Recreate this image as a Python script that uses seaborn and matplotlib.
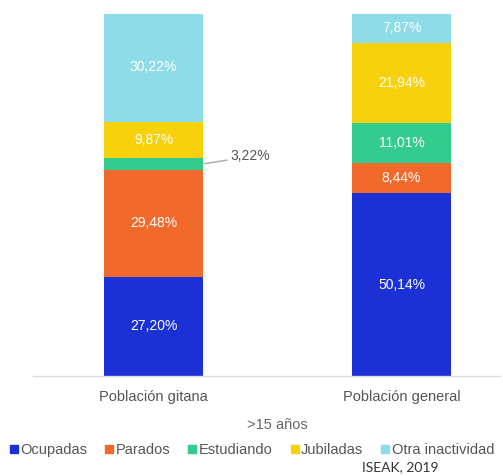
import matplotlib
matplotlib.use("Agg")
import matplotlib.pyplot as plt
from matplotlib.lines import Line2D
import seaborn as sns
import numpy as np

categories = ["Población gitana", "Población general"]
series_names = ["Ocupadas", "Parados", "Estudiando", "Jubiladas", "Otra inactividad"]
ocupadas = [27.20, 50.14]
parados = [29.48, 8.44]
estudiando = [3.22, 11.01]
jubiladas = [9.87, 21.94]
otra = [30.22, 7.87]
colors = ["#1b31d6", "#f26a2b", "#33cc8c", "#f7d20c", "#8edbe9"]

sns.set_theme(style="white")
plt.rcParams["font.family"] = ["Liberation Sans", "DejaVu Sans"]

fig = plt.figure(figsize=(5.03, 4.76), dpi=100)
W, H = 503, 476
ax = fig.add_axes([33 / W, (H - 376) / H, (500 - 33) / W, (376 - 14) / H])

series = [ocupadas, parados, estudiando, jubiladas, otra]
bottom = np.zeros(len(categories))
for name, vals, col in zip(series_names, series, colors):
    sns.barplot(x=categories, y=vals, bottom=bottom, color=col, width=0.4,
                ax=ax, saturation=1, linewidth=0)
    for i, v in enumerate(vals):
        lab = f"{v:.2f}".replace(".", ",") + "%"
        mid = bottom[i] + v / 2
        if v < 5:
            ax.annotate(lab, xy=(0.205, mid), xytext=(0.31, mid + 2.0),
                        textcoords="data", fontsize=10, color="#555555",
                        va="center", ha="left",
                        arrowprops=dict(arrowstyle="-", color="#aaaaaa", lw=1,
                                        shrinkA=0, shrinkB=0))
        else:
            ax.text(i, mid, lab, ha="center", va="center", color="white",
                    fontsize=10)
    bottom = bottom + np.array(vals)

ax.set_xlim(-0.486, 1.397)
ax.set_ylim(0, 99.4)
ax.set_yticks([])
ax.set_xlabel("")
ax.set_ylabel("")
for s in ["top", "right", "left"]:
    ax.spines[s].set_visible(False)
ax.spines["bottom"].set_color("#dddddd")
ax.spines["bottom"].set_linewidth(1)
ax.tick_params(axis="x", length=0, pad=10, labelsize=10.5, labelcolor="#555555")

fig.text(277 / W, 1 - 425 / H, ">15 años", ha="center", va="center",
         fontsize=10.5, color="#666666")

handles = [Line2D([0], [0], marker="s", linestyle="", color=c, markersize=5.5)
           for c in colors]
fig.legend(handles, series_names, loc="center", bbox_to_anchor=(252 / W, 1 - 450 / H),
           ncol=5, frameon=False, fontsize=10.5, handlelength=0.6, handletextpad=0.15,
           columnspacing=1.2, labelcolor="#555555", borderaxespad=0, borderpad=0)

fig.text(400 / W, 1 - 467 / H, "ISEAK, 2019", ha="center", va="center",
         fontsize=10, color="#333333", family=["Lato", "DejaVu Sans"])

fig.savefig("out.png", dpi=100)
